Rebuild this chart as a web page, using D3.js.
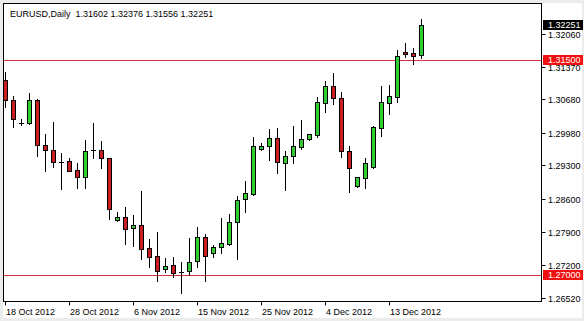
<!DOCTYPE html>
<html>
<head>
<meta charset="utf-8">
<script src="https://cdn.jsdelivr.net/npm/d3@7"></script>
<style>
html,body{margin:0;padding:0;background:#ececec;}
svg{display:block;}
text{font-family:"Liberation Sans",Arial,sans-serif;font-size:9px;}
</style>
</head>
<body>
<svg id="chart" width="584" height="321"></svg>
<script>
// ---- data (EURUSD Daily) ----
const dates = ["2012-10-18","2012-10-19","2012-10-21","2012-10-22","2012-10-23","2012-10-24","2012-10-25","2012-10-26",
"2012-10-28","2012-10-29","2012-10-30","2012-10-31","2012-11-01","2012-11-02","2012-11-04","2012-11-05",
"2012-11-06","2012-11-07","2012-11-08","2012-11-09","2012-11-11","2012-11-12","2012-11-13","2012-11-14",
"2012-11-15","2012-11-16","2012-11-18","2012-11-19","2012-11-20","2012-11-21","2012-11-22","2012-11-23",
"2012-11-25","2012-11-26","2012-11-27","2012-11-28","2012-11-29","2012-11-30","2012-12-02","2012-12-03",
"2012-12-04","2012-12-05","2012-12-06","2012-12-07","2012-12-09","2012-12-10","2012-12-11","2012-12-12",
"2012-12-13","2012-12-14","2012-12-16","2012-12-17","2012-12-18"];
const open  = [1.3109,1.3067,1.3019,1.3019,1.3067,1.2972,1.2962,1.2936,1.2939,1.2920,1.2905,1.2961,1.2962,1.2945,1.2816,1.2821,
1.2798,1.2804,1.2756,1.2739,1.2712,1.2720,1.2706,1.2708,1.2729,1.2779,1.2747,1.2758,1.2766,1.2811,1.2859,1.2870,
1.2965,1.2970,1.2987,1.2935,1.2950,1.2969,1.2985,1.2994,1.3060,1.3096,1.3070,1.2959,1.2887,1.2904,1.2926,1.3009,
1.3061,1.3074,1.3168,1.3165,1.31602];
const high  = [1.3126,1.3075,1.3026,1.3082,1.3068,1.2996,1.3021,1.2955,1.2945,1.2935,1.2983,1.3019,1.2981,1.2946,1.2833,1.2843,
1.2826,1.2876,1.2776,1.2790,1.2735,1.2737,1.2727,1.2777,1.2801,1.2785,1.2762,1.2820,1.2828,1.2866,1.2897,1.2989,
1.2976,1.3006,1.3008,1.2960,1.3012,1.3025,1.2996,1.3073,1.3107,1.3124,1.3083,1.2970,1.2906,1.2945,1.3012,1.3096,
1.3098,1.3172,1.3186,1.3175,1.32376];
const low   = [1.3052,1.3011,1.3014,1.3017,1.2950,1.2919,1.2926,1.2881,1.2917,1.2883,1.2883,1.2945,1.2924,1.2818,1.2814,1.2766,
1.2761,1.2734,1.2716,1.2688,1.2706,1.2696,1.2662,1.2700,1.2716,1.2688,1.2738,1.2746,1.2763,1.2734,1.2833,1.2868,
1.2961,1.2942,1.2913,1.2878,1.2935,1.2965,1.2984,1.2990,1.3042,1.3058,1.2948,1.2875,1.2885,1.2883,1.2924,1.2991,
1.3038,1.3063,1.3158,1.3142,1.31556];
const close = [1.3067,1.3026,1.3019,1.3067,1.2972,1.2963,1.2936,1.2936,1.2919,1.2905,1.2960,1.2961,1.2945,1.2838,1.2822,1.2797,
1.2804,1.2755,1.2738,1.2709,1.2719,1.2705,1.2706,1.2727,1.2780,1.2739,1.2759,1.2767,1.2811,1.2857,1.2871,1.2970,
1.2970,1.2987,1.2936,1.2950,1.2970,1.2985,1.2995,1.3062,1.3096,1.3070,1.2959,1.2924,1.2905,1.2934,1.3010,1.3062,
1.3075,1.3159,1.3163,1.3160,1.32251];
const priceTicks = ["1.32060","1.31370","1.30680","1.29980","1.29300","1.28600","1.27900","1.27200","1.26520"];
const hLines = [1.31500, 1.27000];
const lastPrice = 1.32251;
const title = "EURUSD,Daily  1.31602 1.32376 1.31556 1.32251";
const labelEvery = 8;

// ---- layout ----
const svg = d3.select("#chart");
const P = {left:3.5, top:3.5, right:541.5, bottom:301.5};
const n = dates.length;
const x = d3.scaleLinear().domain([0, n-1]).range([5.5, 5.5 + 8*(n-1)]);
const y = d3.scaleLinear().domain([1.26434, 1.32681]).range([302, 4]);
const parse = d3.timeParse("%Y-%m-%d");
const fmt = d3.timeFormat("%-d %b %Y");

svg.append("rect").attr("x",3).attr("y",3).attr("width",579).attr("height",315).attr("fill","#ffffff");

svg.append("defs").append("clipPath").attr("id","plotclip")
  .append("rect").attr("x",P.left).attr("y",P.top).attr("width",P.right-P.left).attr("height",P.bottom-P.top);

const plot = svg.append("g").attr("clip-path","url(#plotclip)");

// horizontal lines
plot.selectAll("line.h").data(hLines).enter().append("line")
  .attr("x1",P.left).attr("x2",P.right)
  .attr("y1",d=>Math.round(y(d))+0.5).attr("y2",d=>Math.round(y(d))+0.5)
  .attr("stroke","#d8303a").attr("stroke-width",1);

// candles
const idx = d3.range(n);
const g = plot.selectAll("g.c").data(idx).enter().append("g");
g.append("line")
  .attr("x1",i=>x(i)).attr("x2",i=>x(i))
  .attr("y1",i=>Math.round(y(high[i]))).attr("y2",i=>Math.round(y(low[i]))+1)
  .attr("stroke","#000").attr("stroke-width",1);
g.each(function(i){
  const sel = d3.select(this);
  const yo = Math.round(y(open[i])), yc = Math.round(y(close[i]));
  const t = Math.min(yo,yc), b = Math.max(yo,yc);
  if (b - t < 1) {
    sel.append("line").attr("x1",x(i)-2.5).attr("x2",x(i)+2.5)
      .attr("y1",t+0.5).attr("y2",t+0.5).attr("stroke","#000").attr("stroke-width",1);
  } else {
    sel.append("rect").attr("x",x(i)-2).attr("width",4)
      .attr("y",t+0.5).attr("height",b-t)
      .attr("fill", close[i] >= open[i] ? "#32cd32" : "#c81e1e")
      .attr("stroke","#000").attr("stroke-width",1);
  }
});

// frame
svg.append("rect").attr("x",P.left).attr("y",P.top).attr("width",P.right-P.left).attr("height",P.bottom-P.top)
  .attr("fill","none").attr("stroke","#000").attr("stroke-width",1);

// title
svg.append("text").attr("x",10).attr("y",17).attr("fill","#000").style("white-space","pre").text(title);

// price axis
const pa = svg.append("g");
priceTicks.forEach(t=>{
  const yy = Math.round(y(+t))+0.5;
  pa.append("line").attr("x1",P.right).attr("x2",P.right+4).attr("y1",yy).attr("y2",yy).attr("stroke","#000");
  pa.append("text").attr("x",548).attr("y",yy).attr("dy","0.35em").attr("fill","#000").text(t);
});

// price markers
function marker(v, bg){
  const yy = Math.round(y(v));
  pa.append("rect").attr("x",543).attr("y",yy-5).attr("width",40).attr("height",10).attr("fill",bg);
  pa.append("text").attr("x",548).attr("y",yy).attr("dy","0.35em").attr("fill","#fff").text(v.toFixed(5));
}
hLines.forEach(v=>marker(v,"#f01010"));
marker(lastPrice,"#000000");

// time axis
const ta = svg.append("g");
idx.filter(i=>i % labelEvery === 0).forEach(i=>{
  const xx = Math.round(x(i)) - 0.5;
  ta.append("line").attr("x1",xx).attr("x2",xx).attr("y1",P.bottom).attr("y2",P.bottom+4).attr("stroke","#000");
  ta.append("text").attr("x",xx+0.5).attr("y",315).attr("fill","#000").text(fmt(parse(dates[i])));
});
</script>
</body>
</html>
